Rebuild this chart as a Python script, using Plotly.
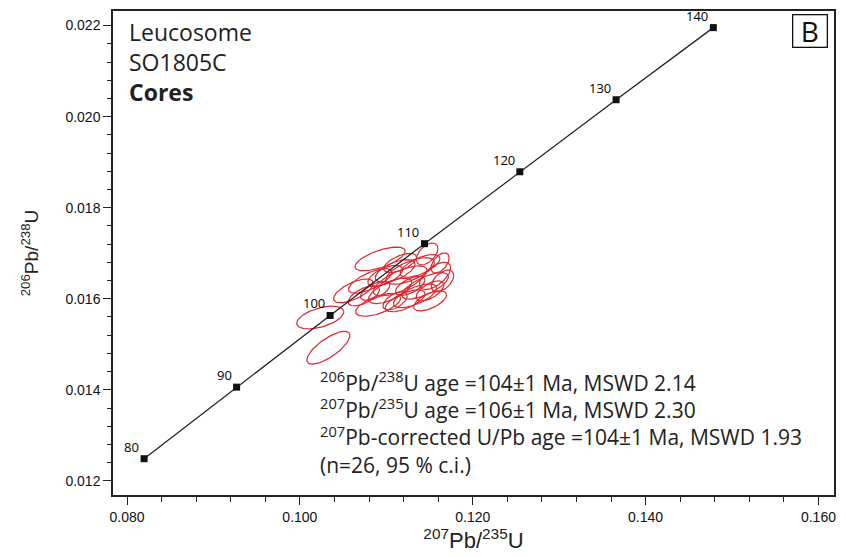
import numpy as np
import plotly.graph_objects as go

# Concordia reference points (age in Ma, 207Pb/235U, 206Pb/238U)
conc_age = [80, 90, 100, 110, 120, 130, 140]
conc_x = [0.08198, 0.09268, 0.10350, 0.11442, 0.12545, 0.13659, 0.14784]
conc_y = [0.012487, 0.014059, 0.015633, 0.017210, 0.018789, 0.020371, 0.021955]

# Analyses: 207Pb/235U, err, 206Pb/238U, err, rho
ell_x = [0.10330, 0.10236, 0.10620, 0.10928, 0.11472, 0.10906, 0.11160, 0.11276, 0.11449,
         0.11564, 0.11622, 0.11044, 0.10813, 0.11102, 0.11333, 0.11506, 0.11218, 0.10987,
         0.10740, 0.11391, 0.11160, 0.11650, 0.10871, 0.11276, 0.11102, 0.11506]
ell_sx = [0.00249, 0.00272, 0.00230, 0.00290, 0.00125, 0.00260, 0.00310, 0.00280, 0.00270,
          0.00180, 0.00105, 0.00250, 0.00250, 0.00230, 0.00250, 0.00190, 0.00230, 0.00200,
          0.00180, 0.00230, 0.00190, 0.00130, 0.00170, 0.00170, 0.00140, 0.00160]
ell_y = [0.014924, 0.015588, 0.016173, 0.016874, 0.016984, 0.015866, 0.016392, 0.016611, 0.016283,
         0.016502, 0.016786, 0.016173, 0.016392, 0.016611, 0.016064, 0.015954, 0.015954, 0.016502,
         0.016064, 0.016721, 0.016786, 0.016392, 0.016173, 0.016283, 0.015954, 0.016173]
ell_sy = [0.00036, 0.00025, 0.00026, 0.00026, 0.00024, 0.00025, 0.00033, 0.00029, 0.00029,
          0.00030, 0.00022, 0.00028, 0.00027, 0.00025, 0.00026, 0.00022, 0.00024, 0.00023,
          0.00022, 0.00025, 0.00021, 0.00024, 0.00021, 0.00021, 0.00020, 0.00022]
ell_rho = [0.75, 0.5, 0.65, 0.65, 0.5, 0.6, 0.7, 0.65, 0.7, 0.6, 0.5, 0.65, 0.7, 0.6, 0.65,
           0.6, 0.65, 0.6, 0.6, 0.65, 0.6, 0.5, 0.6, 0.6, 0.55, 0.6]

title_lines = ["Leucosome", "SO1805C", "<b>Cores</b>"]
stats_lines = ["<sup>206</sup>Pb/<sup>238</sup>U age =104±1 Ma, MSWD 2.14",
               "<sup>207</sup>Pb/<sup>235</sup>U age =106±1 Ma, MSWD 2.30",
               "<sup>207</sup>Pb-corrected U/Pb age =104±1 Ma, MSWD 1.93",
               "(n=26, 95 % c.i.)"]

RED = "#e2262e"
fig = go.Figure()

t = np.linspace(0, 2 * np.pi, 90)
for cx, sx, cy, sy, r in zip(ell_x, ell_sx, ell_y, ell_sy, ell_rho):
    px = cx + sx * np.cos(t)
    py = cy + sy * (r * np.cos(t) + np.sqrt(1 - r * r) * np.sin(t))
    fig.add_trace(go.Scatter(x=px, y=py, mode="lines", line=dict(color=RED, width=1.2),
                             hoverinfo="skip", showlegend=False))

fig.add_trace(go.Scatter(x=conc_x, y=conc_y, mode="lines+markers",
                         line=dict(color="#222", width=1.3),
                         marker=dict(symbol="square", size=7, color="#111"),
                         showlegend=False))

for a, x, y in zip(conc_age, conc_x, conc_y):
    fig.add_annotation(x=x, y=y, text=str(a), showarrow=False, xanchor="right", yanchor="bottom",
                       xshift=-3, yshift=1, font=dict(size=13, color="#000", family="Open Sans"))

fig.add_annotation(xref="paper", yref="paper", x=0.02, y=1, xanchor="left", yanchor="top",
                   yshift=-3, align="left", showarrow=False, text="<br>".join(title_lines),
                   font=dict(size=23, color="#222", family="Open Sans"))

fig.add_annotation(xref="paper", yref="paper", x=1, y=1, xanchor="right", yanchor="top",
                   xshift=-6, yshift=-3, showarrow=False, text="B", width=31, height=29,
                   borderpad=1, bordercolor="#111", borderwidth=1.3,
                   font=dict(size=28, color="#111", family="Open Sans"))

fig.add_annotation(xref="x", yref="paper", x=0.1021, y=0, xanchor="left", yanchor="top",
                   yshift=131, align="left", showarrow=False, text="<br>".join(stats_lines),
                   font=dict(size=21, color="#222", family="Open Sans"))

axis_common = dict(showgrid=False, zeroline=False, showline=True, mirror=True,
                   linecolor="#222", linewidth=1.5, ticks="outside", ticklen=8,
                   tickcolor="#222", tickwidth=1.3,
                   tickfont=dict(size=14, color="#111", family="Liberation Sans Narrow, Liberation Sans"))

fig.update_xaxes(range=[0.07838, 0.1618], tick0=0.08, dtick=0.02, tickformat=".3f",
                 minor=dict(dtick=0.004, ticks="outside", ticklen=5, tickcolor="#222"),
                 title=dict(text="<sup>207</sup>Pb/<sup>235</sup>U", standoff=2,
                            font=dict(size=22, color="#222", family="Liberation Sans Narrow, Liberation Sans")),
                 **axis_common)
fig.update_yaxes(range=[0.01169, 0.02232], tick0=0.012, dtick=0.002, tickformat=".3f",
                 minor=dict(dtick=0.0004, ticks="outside", ticklen=4, tickcolor="#222"),
                 title=dict(text="<sup>206</sup>Pb/<sup>238</sup>U", standoff=22,
                            font=dict(size=19, color="#222", family="Liberation Sans Narrow, Liberation Sans")),
                 **axis_common)

fig.update_layout(width=846, height=557, margin=dict(l=113, r=12, t=9, b=62),
                  plot_bgcolor="white", paper_bgcolor="white", showlegend=False)

fig.write_html("out.html")
